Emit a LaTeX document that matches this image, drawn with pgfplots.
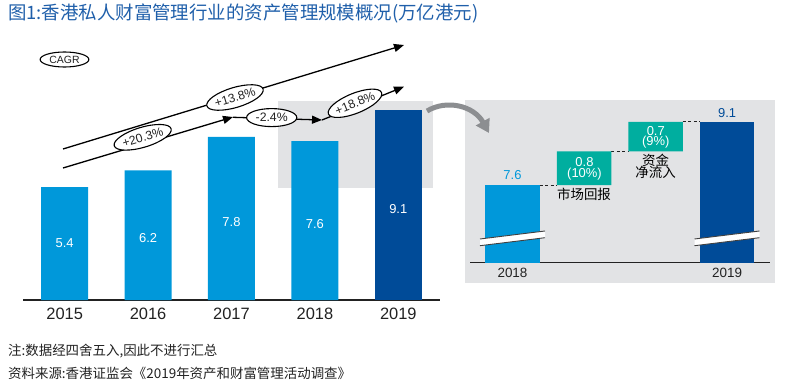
\documentclass[border=0pt]{standalone}
\usepackage{fontspec}
\setmainfont{Liberation Sans}
\newfontfamily\cjk{Noto Sans CJK SC}
\usepackage{pgfplots}
\pgfplotsset{compat=1.18}
\usetikzlibrary{arrows.meta,shapes.geometric}
\definecolor{lblue}{RGB}{0,152,218}
\definecolor{dblue}{RGB}{0,75,152}
\definecolor{tealc}{RGB}{0,174,159}
\definecolor{panel}{RGB}{226,227,229}
\definecolor{titleblue}{RGB}{31,95,170}
\definecolor{txt}{RGB}{34,34,34}
\definecolor{arrowgray}{RGB}{140,142,145}
\newcommand{\fs}[1]{\fontsize{#1}{#1}\selectfont}
\begin{document}
\begin{tikzpicture}
\path[use as bounding box] (0,0) rectangle (785bp,-383bp);
\begin{scope}[x=1bp,y=-1bp]
  \fill[panel] (278,100.7) rectangle (433,187.7);
  \fill[panel] (465,100) rectangle (775,283);
\end{scope}

% ---------- left chart ----------
\begin{axis}[at={(23bp,-300bp)}, anchor=south west, scale only axis,
  width=417bp, height=209bp, xmin=-0.5, xmax=4.5, ymin=0, ymax=10,
  enlargelimits=false, clip=false,
  axis x line=bottom, axis y line=none,
  x axis line style={-, line width=1.5bp, color=txt},
  xtick={0,1,2,3,4}, xticklabels={2015,2016,2017,2018,2019},
  major tick length=0pt,
  x tick label style={anchor=center, yshift=-14bp, text=txt, font=\fs{16.5}}]
  \addplot[ybar, bar width=47bp, bar shift=0pt, fill=lblue, draw=none]
    coordinates {(0,5.4) (1,6.2) (2,7.8) (3,7.6)};
  \addplot[ybar, bar width=47bp, bar shift=0pt, fill=dblue, draw=none]
    coordinates {(4,9.1)};
  \node[white, font=\fs{13}] at (axis cs:0,2.73) {5.4};
  \node[white, font=\fs{13}] at (axis cs:1,2.97) {6.2};
  \node[white, font=\fs{13}] at (axis cs:2,3.73) {7.8};
  \node[white, font=\fs{13}] at (axis cs:3,3.64) {7.6};
  \node[white, font=\fs{13}] at (axis cs:4,4.35) {9.1};
\end{axis}

% ---------- right chart ----------
\begin{axis}[at={(470bp,-262.7bp)}, anchor=south west, scale only axis,
  width=300bp, height=162bp, xmin=-0.594, xmax=3.6, ymin=5.76, ymax=9.6,
  enlargelimits=false, clip mode=individual,
  ybar stacked, bar width=54.5bp,
  axis x line=bottom, axis y line=none,
  x axis line style={-, line width=1.5bp, color=txt},
  xtick={0,3}, xticklabels={2018,2019},
  major tick length=0pt,
  x tick label style={anchor=center, yshift=-10.5bp, text=txt, font=\fs{13.5}}]
  \addplot[fill=lblue, draw=none] coordinates {(0,7.6) (1,0) (2,0) (3,0)};
  \addplot[fill=none, draw=none] coordinates {(0,0) (1,7.6) (2,8.4) (3,0)};
  \addplot[fill=tealc, draw=none] coordinates {(0,0) (1,0.8) (2,0.7) (3,0)};
  \addplot[fill=dblue, draw=none] coordinates {(0,0) (1,0) (2,0) (3,9.1)};
  \draw[dashed, dash pattern=on 3bp off 2.5bp, line width=1bp, color=txt]
    (axis cs:0.381,7.6) -- (axis cs:0.619,7.6)
    (axis cs:1.381,8.4) -- (axis cs:1.619,8.4)
    (axis cs:2.381,9.1) -- (axis cs:2.619,9.1);
  \node[lblue, font=\fs{13}] at (axis cs:0,7.84) {7.6};
  \node[dblue, font=\fs{13}] at (axis cs:3,9.31) {9.1};
  \node[black, font=\cjk\fs{13.5}, inner sep=0pt] at (axis cs:1,7.39) {市场回报};
  \node[black, font=\cjk\fs{13.5}, align=center, inner sep=0pt] at (axis cs:2,8.04) {资金\\[-1bp]净流入};
\end{axis}

\begin{scope}[x=1bp,y=-1bp]
  % step value labels
  \node[white, font=\fs{13}, inner sep=0pt] at (584.5,161.7) {0.8};
  \node[white, font=\fs{13}, inner sep=0pt] at (584.5,174) {(10\%)};
  \node[white, font=\fs{13}, inner sep=0pt] at (655.8,130.7) {0.7};
  \node[white, font=\fs{13}, inner sep=0pt] at (655.8,142) {(9\%)};
  % break marks
  \fill[white] (480,239) -- (545,231) -- (545,237.7) -- (480,245.7) -- cycle;
  \draw[line width=0.9bp, color=black!75] (480,239) -- (545,231) (480,245.7) -- (545,237.7);
  \fill[white] (694.5,239) -- (759.5,231) -- (759.5,237.7) -- (694.5,245.7) -- cycle;
  \draw[line width=0.9bp, color=black!75] (694.5,239) -- (759.5,231) (694.5,245.7) -- (759.5,237.7);
  % curved arrow
  \draw[line width=5bp, color=arrowgray, -{Triangle[length=13bp,width=15bp]}]
    (427,111) .. controls (447,99) and (474,106) .. (489,133);
  % CAGR arrows
  \draw[line width=1.3bp, -{Triangle[length=10bp,width=8bp]}] (63,149) -- (404,45);
  \draw[line width=1.3bp, -{Triangle[length=10bp,width=8bp]}] (63,168) -- (233,117);
  \draw[line width=1.3bp, -{Triangle[length=10bp,width=8bp]}] (233,117.3) -- (322,120);
  \draw[line width=1.3bp, -{Triangle[length=10bp,width=8bp]}] (322,120) -- (404,86.7);
  % ellipses
  \tikzset{cg/.style={ellipse, draw, line width=1.1bp, fill=white, inner sep=0pt, text=txt}}
  \node[cg, minimum height=15bp, font=\fs{10.5}] at (64.5,59.5) {\makebox[34.5bp]{CAGR}};
  \node[cg, minimum height=20bp, font=\fs{12.3}, rotate=16.7] at (235,97.5) {\makebox[41.5bp]{+13.8\%}};
  \node[cg, minimum height=20bp, font=\fs{12.3}, rotate=16.7] at (142.7,137.3) {\makebox[42bp]{+20.3\%}};
  \node[cg, minimum height=18bp, font=\fs{12.3}] at (271.7,117.6) {\makebox[35.5bp]{-2.4\%}};
  \node[cg, minimum height=20bp, font=\fs{12.3}, rotate=22] at (355,103.3) {\makebox[40.5bp]{+18.8\%}};
  % title and notes
  \node[anchor=west, inner sep=0pt, text=titleblue, font=\cjk\fs{18.5}] at (8,13)
    {图1:香港私人财富管理行业的资产管理规模概况(万亿港元)};
  \node[anchor=west, inner sep=0pt, text=txt, font=\cjk\fs{13.5}] at (8,351)
    {注:数据经四舍五入,因此不进行汇总};
  \node[anchor=west, inner sep=0pt, text=txt, font=\cjk\fs{13.5}] at (8,373)
    {资料来源:香港证监会《2019年资产和财富管理活动调查》};
\end{scope}
\end{tikzpicture}
\end{document}
